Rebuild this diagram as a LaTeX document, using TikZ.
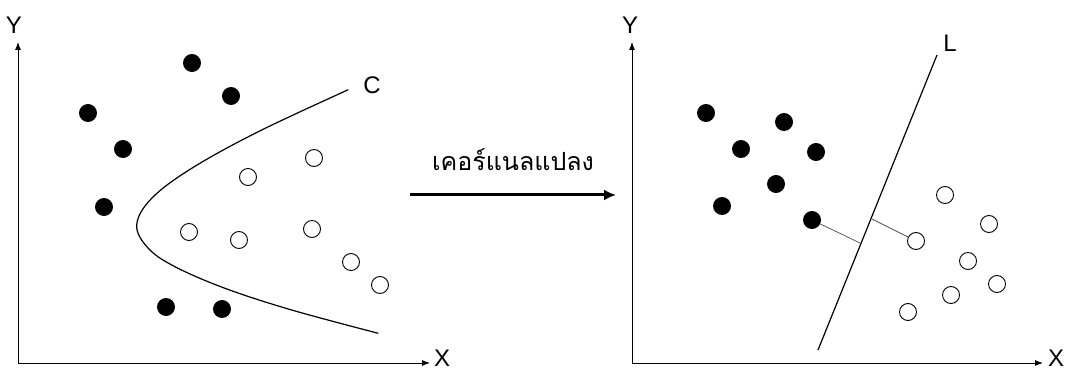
\documentclass[tikz,border=0pt]{standalone}
\usepackage{fontspec}
\setmainfont{Liberation Sans}
\newfontfamily\thaifont[Script=Thai]{Loma}
\usetikzlibrary{arrows.meta}
\begin{document}
\begin{tikzpicture}[x=1pt,y=-1pt,
  axis/.style={line width=0.9pt,-{Latex[length=8pt,width=6pt]}},
  blackdot/.style={circle,fill=black,draw=black,line width=0.9pt,minimum size=17pt,inner sep=0pt},
  whitedot/.style={circle,fill=white,draw=black,line width=0.9pt,minimum size=17pt,inner sep=0pt},
  axislabel/.style={font=\fontsize{24}{28}\selectfont,inner sep=0pt},
  gap/.style={draw=black!70,line width=0.7pt}]
\useasboundingbox (0,0) rectangle (1070,371);

% ---- left plot: points separated by a curve
\coordinate (o1) at (18,363);
\coordinate (yt1) at (18,42);
\coordinate (xt1) at (430,363);
\draw[axis] (o1) -- (yt1);
\draw[axis] (o1) -- (xt1);
\node[axislabel] (ly1) at (14,25) {Y};
\node[axislabel] (lx1) at (442,358) {X};

\foreach \n/\p in {a/{192,63},b/{231,96},c/{88,113},d/{123,149},e/{104,207},f/{166,307},g/{222,309}}
  \node[blackdot] (L\n) at (\p) {};
\foreach \n/\p in {a/{314,158},b/{248,177},c/{189,232},d/{239,240},e/{312,229},f/{351,262},g/{380,285}}
  \node[whitedot] (W\n) at (\p) {};

% separating curve C
\draw[line width=1.2pt] plot[smooth,tension=0.6] coordinates
  {(348.3,89.7) (258.3,131.7) (191.7,168.3) (151.7,198.3) (136.7,225)
   (148.3,248.3) (175,266.7) (225,288.3) (291.7,310) (378.3,333.3)};
\node[axislabel] (lc) at (372,85) {C};

% ---- mapping arrow
\coordinate (m0) at (410,195);
\coordinate (m1) at (616,195);
\draw[line width=3pt,-{Latex[length=12pt,width=11pt]}] (m0) -- (m1);
\node[inner sep=0pt,font=\thaifont\fontsize{25}{29}\selectfont] (lk) at (513,160) {เคอร์แนลแปลง};

% ---- right plot: points separated by a line
\coordinate (o2) at (632,363);
\coordinate (yt2) at (632,42);
\coordinate (xt2) at (1043,363);
\draw[axis] (o2) -- (yt2);
\draw[axis] (o2) -- (xt2);
\node[axislabel] (ly2) at (630,25) {Y};
\node[axislabel] (lx2) at (1056,358) {X};

\foreach \n/\p in {a/{706,113},b/{784,122},c/{741,149},d/{816,152},e/{776,184},f/{722,206},g/{812,220}}
  \node[blackdot] (R\n) at (\p) {};
\foreach \n/\p in {a/{945,195},b/{989,224},c/{968,261},d/{916,241},e/{997,284},f/{951,295},g/{908,312}}
  \node[whitedot] (V\n) at (\p) {};

\coordinate (l0) at (818,350);
\coordinate (l1) at (937,55);
\draw[line width=1.2pt] (l0) -- (l1);
\node[axislabel] (ll) at (950,43) {L};

% distances of the nearest points to the line
\coordinate (h1) at (860,243);
\coordinate (h2) at (870,218);
\draw[gap] (Rg) -- (h1);
\draw[gap] (h2) -- (Vd);
\end{tikzpicture}
\end{document}
